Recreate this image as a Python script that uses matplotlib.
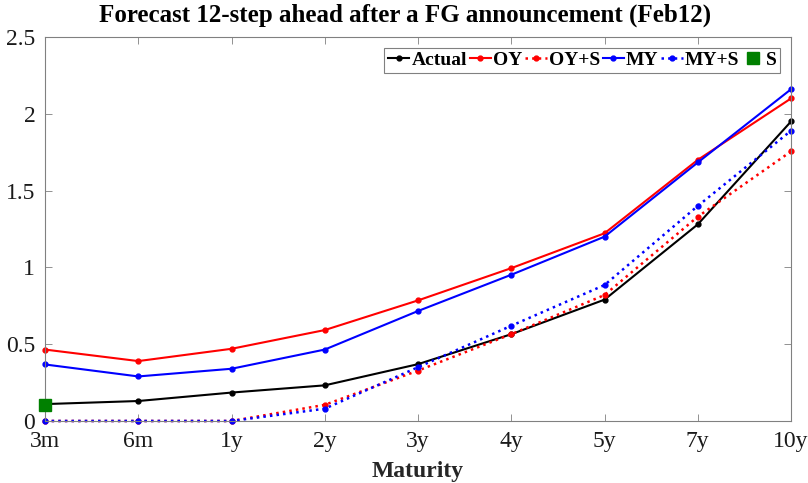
import matplotlib.pyplot as plt

plt.rcParams['font.family'] = ['Liberation Serif', 'DejaVu Serif']

maturity = ['3m', '6m', '1y', '2y', '3y', '4y', '5y', '7y', '10y']
actual = [0.11, 0.13, 0.185, 0.232, 0.37, 0.565, 0.79, 1.28, 1.95]
oy = [0.465, 0.39, 0.47, 0.592, 0.785, 0.995, 1.222, 1.70, 2.10]
oy_s = [0.0, 0.0, 0.0, 0.105, 0.328, 0.565, 0.82, 1.33, 1.755]
my = [0.368, 0.29, 0.34, 0.465, 0.716, 0.952, 1.20, 1.683, 2.16]
my_s = [0.0, 0.0, 0.0, 0.08, 0.35, 0.62, 0.885, 1.40, 1.89]
s_val = [0.105]

x = list(range(len(maturity)))

fig = plt.figure(figsize=(8.08, 4.83), dpi=100)
ax = fig.add_axes([0.0557, 0.1284, 0.9233, 0.795])

ax.plot(x, actual, '-', color='black', marker='o', ms=3.5, lw=1.5, label='Actual', clip_on=False)
ax.plot(x, oy, '-', color='red', marker='o', ms=3.5, lw=1.5, label='OY', clip_on=False)
ax.plot(x, oy_s, ':', color='red', marker='o', ms=3.5, lw=1.8, label='OY+S', clip_on=False)
ax.plot(x, my, '-', color='blue', marker='o', ms=3.5, lw=1.5, label='MY', clip_on=False)
ax.plot(x, my_s, ':', color='blue', marker='o', ms=3.5, lw=1.8, label='MY+S', clip_on=False)
ax.plot([0], s_val, 's', color='green', ms=8, label='S', zorder=5, clip_on=False)

ax.set_xlim(0, 8)
ax.set_ylim(0, 2.5)
ax.set_xticks(x)
ax.set_xticklabels(maturity)
ax.set_yticks([0, 0.5, 1, 1.5, 2, 2.5])
ax.set_yticklabels(['0', '0.5', '1', '1.5', '2', '2.5'])
ax.tick_params(direction='in', top=True, right=True, labelsize=17, labelcolor='#1a1a1a',
               color='#808080', length=5, width=0.6, pad=7)
for sp in ax.spines.values():
    sp.set_color('#808080')
    sp.set_linewidth(0.8)

ax.set_xlabel('Maturity', fontsize=17, fontweight='bold', color='#262626', labelpad=7)
ax.set_title('Forecast 12-step ahead after a FG announcement (Feb12)',
             fontsize=18, fontweight='bold', pad=11, x=0.483)

leg = ax.legend(loc='upper right', ncol=6, handlelength=1.1,
                handletextpad=0.1, columnspacing=0.15, borderpad=0.2,
                fancybox=False, framealpha=1, edgecolor='#808080',
                borderaxespad=0.55, prop={'weight': 'bold', 'size': 14})
leg.get_frame().set_linewidth(0.8)

fig.savefig('out.png', dpi=100)
